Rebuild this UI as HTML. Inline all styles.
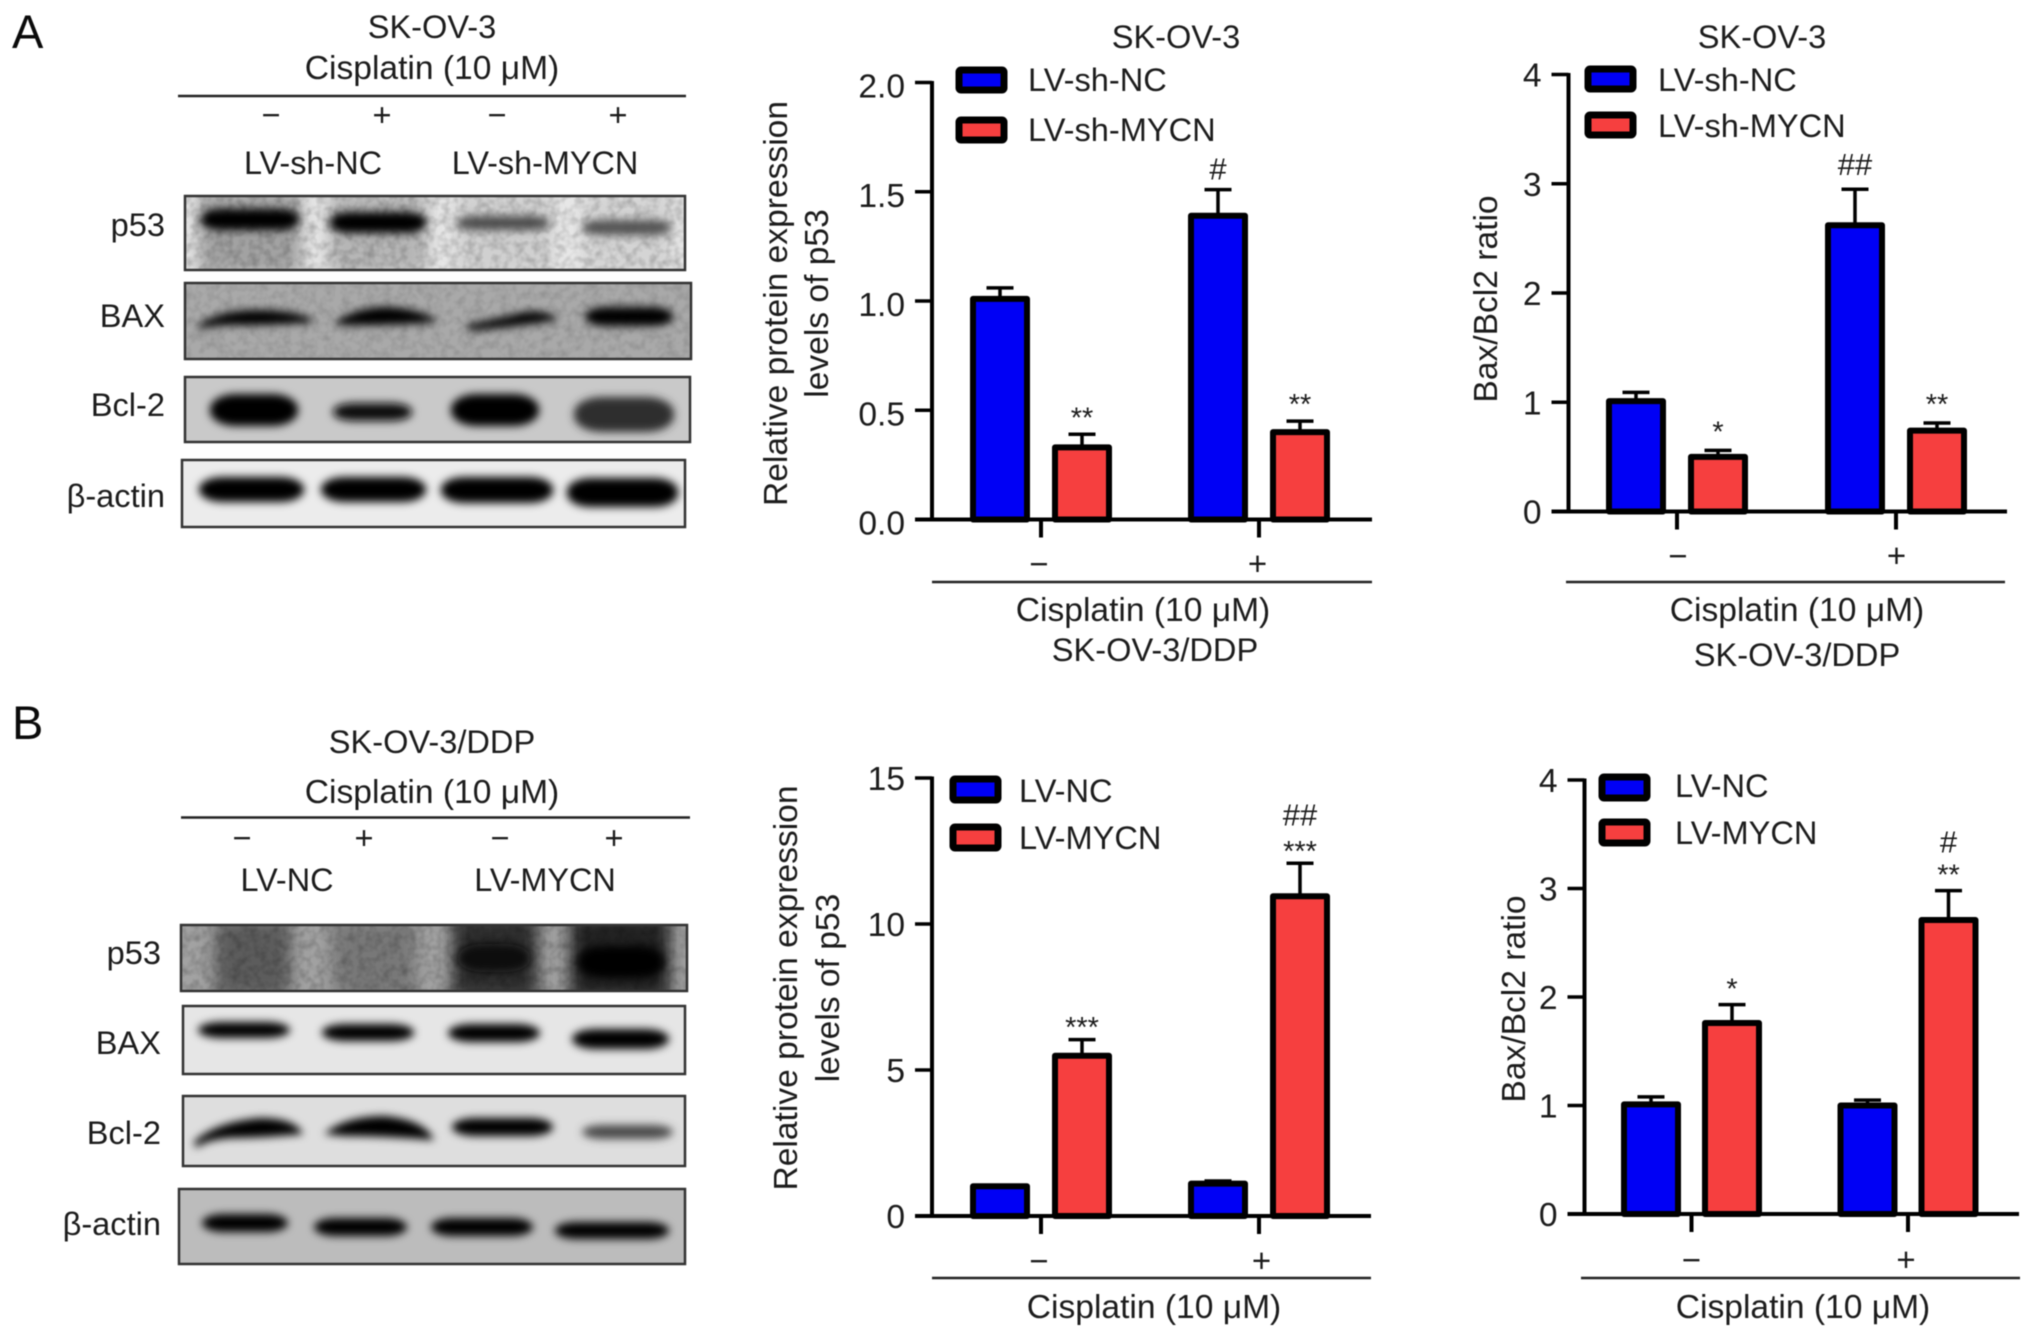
<!DOCTYPE html>
<html lang="en">
<head>
<meta charset="utf-8">
<title>p53 and Bax/Bcl2 expression after cisplatin treatment</title>
<style>
html,body{margin:0;padding:0;background:#fff}
svg{display:block;filter:blur(0.6px)}
text{font-family:"Liberation Sans",Arial,sans-serif;fill:#1c1c1c}
.t33{font-size:33.6px}
.t32{font-size:32.6px}
.t31{font-size:32.4px}
.mid{text-anchor:middle}
.end{text-anchor:end}
.panel{font-size:47px;fill:#0a0a0a}
.frame{fill:none;stroke:#333;stroke-width:2.5}
.rule{stroke:#222;stroke-width:2.5}
.swatch{stroke:#000;stroke-width:7}
.blue{fill:#0000f5}
.red{fill:#f63f3f}
</style>
</head>
<body>
<svg id="figure" xmlns="http://www.w3.org/2000/svg" width="2032" height="1338" viewBox="0 0 2032 1338">
<defs>
<filter id="b4" x="-30%" y="-80%" width="160%" height="260%"><feGaussianBlur stdDeviation="4.2"/></filter>
<filter id="b8" x="-30%" y="-30%" width="160%" height="160%"><feGaussianBlur stdDeviation="8"/></filter>
<filter id="grain" x="0" y="0" width="100%" height="100%"><feTurbulence type="fractalNoise" baseFrequency="0.12" numOctaves="2" seed="4"/><feColorMatrix type="matrix" values="0 0 0 0 0  0 0 0 0 0  0 0 0 0 0  1.6 0 0 0 -0.6"/></filter>
<clipPath id="c1"><rect x="185" y="196" width="500" height="74"/></clipPath>
<clipPath id="c2"><rect x="185" y="283" width="506" height="76"/></clipPath>
<clipPath id="c3"><rect x="185" y="377" width="505" height="65"/></clipPath>
<clipPath id="c4"><rect x="182" y="460" width="503" height="67"/></clipPath>
<clipPath id="c5"><rect x="181" y="925" width="506" height="66"/></clipPath>
<clipPath id="c6"><rect x="183" y="1006" width="502" height="68"/></clipPath>
<clipPath id="c7"><rect x="183" y="1096" width="502" height="70"/></clipPath>
<clipPath id="c8"><rect x="179" y="1189" width="506" height="75"/></clipPath>
</defs>

<!-- Panel A western blots -->
<g id="blot-a">
<text class="panel" x="12" y="48">A</text>
<text class="t32 mid" x="432" y="38">SK-OV-3</text>
<text class="t33 mid" x="432" y="79">Cisplatin (10 μM)</text>
<line class="rule" x1="178" y1="96" x2="686" y2="96"/>
<text class="t32 mid" x="271" y="126">−</text>
<text class="t32 mid" x="382" y="126">+</text>
<text class="t32 mid" x="497" y="126">−</text>
<text class="t32 mid" x="618" y="126">+</text>
<text class="t31 mid" x="313" y="174">LV-sh-NC</text>
<text class="t31 mid" x="545" y="174">LV-sh-MYCN</text>
<text class="t32 end" x="165" y="236">p53</text>
<text class="t32 end" x="165" y="327">BAX</text>
<text class="t32 end" x="165" y="416">Bcl-2</text>
<text class="t32 end" x="165" y="507">β-actin</text>

<g>
<g clip-path="url(#c1)">
<rect x="185" y="196" width="500" height="74" fill="#e8e8e8"/>
<g filter="url(#b8)">
<rect x="198" y="190" width="104" height="85" fill="#a2a2a2"/>
<rect x="328" y="190" width="100" height="85" fill="#b6b6b6"/>
<rect x="455" y="190" width="98" height="85" fill="#d0d0d0"/>
<rect x="582" y="190" width="92" height="85" fill="#d4d4d4"/>
</g>
<rect x="185" y="196" width="500" height="74" filter="url(#grain)" opacity="0.25"/>
<g filter="url(#b4)">
<rect x="201" y="209" width="98" height="21" rx="20" ry="9" fill="#000"/>
<rect x="330" y="212" width="96" height="21" rx="20" ry="9" fill="#000"/>
<rect x="456" y="216" width="94" height="14" rx="20" ry="7" fill="#4c4c4c"/>
<rect x="582" y="220" width="90" height="15" rx="20" ry="7" fill="#525252"/>
</g>
</g>
<rect class="frame" x="185" y="196" width="500" height="74"/>
</g>

<g>
<g clip-path="url(#c2)">
<rect x="185" y="283" width="506" height="76" fill="#a9a9a9"/>
<rect x="185" y="283" width="506" height="76" filter="url(#grain)" opacity="0.15"/>
<g filter="url(#b4)" fill="#000">
<path d="M198 326 Q215 311 255 310 Q300 310 316 322 Q260 326 235 325 Q210 325 198 330 Z"/>
<path d="M337 321 Q360 306 390 307 Q425 310 438 322 Q390 326 337 325 Z"/>
<path d="M466 325 Q500 318 525 312 Q550 310 558 320 Q520 326 470 331 Z"/>
<rect x="585" y="307" width="88" height="19" rx="22" ry="9"/>
</g>
</g>
<rect class="frame" x="185" y="283" width="506" height="76"/>
</g>

<g>
<g clip-path="url(#c3)">
<rect x="185" y="377" width="505" height="65" fill="#c9c9c9"/>
<g filter="url(#b4)">
<rect x="210" y="394" width="88" height="32" rx="26" ry="15" fill="#000"/>
<rect x="333" y="403" width="79" height="18" rx="22" ry="8" fill="#0a0a0a"/>
<rect x="451" y="394" width="88" height="32" rx="26" ry="15" fill="#000"/>
<rect x="574" y="397" width="100" height="35" rx="28" ry="16" fill="#2d2d2d"/>
</g>
</g>
<rect class="frame" x="185" y="377" width="505" height="65"/>
</g>

<g>
<g clip-path="url(#c4)">
<rect x="182" y="460" width="503" height="67" fill="#ececec"/>
<g filter="url(#b4)" fill="#000">
<rect x="199" y="477" width="105" height="25" rx="24" ry="12"/>
<rect x="321" y="477" width="105" height="25" rx="24" ry="12"/>
<rect x="441" y="477" width="112" height="26" rx="24" ry="12"/>
<rect x="567" y="478" width="111" height="29" rx="24" ry="13"/>
</g>
</g>
<rect class="frame" x="182" y="460" width="503" height="67"/>
</g>
</g>

<!-- Panel B western blots -->
<g id="blot-b">
<text class="panel" x="12" y="739">B</text>
<text class="t32 mid" x="432" y="753">SK-OV-3/DDP</text>
<text class="t33 mid" x="432" y="803">Cisplatin (10 μM)</text>
<line class="rule" x1="181" y1="817.5" x2="690" y2="817.5"/>
<text class="t32 mid" x="242" y="849">−</text>
<text class="t32 mid" x="364" y="849">+</text>
<text class="t32 mid" x="500" y="849">−</text>
<text class="t32 mid" x="614" y="849">+</text>
<text class="t31 mid" x="287" y="891">LV-NC</text>
<text class="t31 mid" x="545" y="891">LV-MYCN</text>
<text class="t32 end" x="161" y="964">p53</text>
<text class="t32 end" x="161" y="1054">BAX</text>
<text class="t32 end" x="161" y="1144">Bcl-2</text>
<text class="t32 end" x="161" y="1235">β-actin</text>

<g>
<g clip-path="url(#c5)">
<rect x="181" y="925" width="506" height="66" fill="#a2a2a2"/>
<g filter="url(#b8)">
<rect x="215" y="920" width="76" height="76" fill="#5c5c5c"/>
<rect x="332" y="920" width="84" height="76" fill="#787878"/>
<rect x="452" y="915" width="86" height="85" fill="#2e2e2e"/>
<rect x="570" y="915" width="100" height="85" fill="#222"/>
</g>
<rect x="181" y="925" width="506" height="66" filter="url(#grain)" opacity="0.25"/>
<g filter="url(#b4)">
<rect x="458" y="944" width="72" height="28" rx="24" ry="13" fill="#0c0c0c"/>
<rect x="578" y="946" width="86" height="32" rx="24" ry="14" fill="#030303"/>
</g>
</g>
<rect class="frame" x="181" y="925" width="506" height="66"/>
</g>

<g>
<g clip-path="url(#c6)">
<rect x="183" y="1006" width="502" height="68" fill="#e6e6e6"/>
<g filter="url(#b4)" fill="#000">
<rect x="198" y="1022" width="92" height="16" rx="24" ry="8"/>
<rect x="322" y="1024" width="92" height="17" rx="24" ry="8"/>
<rect x="448" y="1024" width="92" height="18" rx="24" ry="9"/>
<rect x="572" y="1029" width="97" height="20" rx="24" ry="10"/>
</g>
</g>
<rect class="frame" x="183" y="1006" width="502" height="68"/>
</g>

<g>
<g clip-path="url(#c7)">
<rect x="183" y="1096" width="502" height="70" fill="#dedede"/>
<g filter="url(#b4)">
<path d="M194 1142 Q215 1122 260 1118 Q295 1118 303 1134 Q260 1138 230 1138 Q205 1140 196 1148 Z" fill="#000"/>
<path d="M324 1134 Q345 1116 385 1116 Q425 1120 434 1140 Q385 1136 345 1136 Z" fill="#000"/>
<rect x="452" y="1118" width="101" height="18" rx="24" ry="9" fill="#050505"/>
<rect x="582" y="1125" width="91" height="14" rx="22" ry="7" fill="#4a4a4a"/>
</g>
</g>
<rect class="frame" x="183" y="1096" width="502" height="70"/>
</g>

<g>
<g clip-path="url(#c8)">
<rect x="179" y="1189" width="506" height="75" fill="#bcbcbc"/>
<g filter="url(#b4)" fill="#000">
<rect x="202" y="1214" width="86" height="18" rx="22" ry="9"/>
<rect x="314" y="1218" width="93" height="18" rx="22" ry="9"/>
<rect x="431" y="1218" width="102" height="18" rx="22" ry="9"/>
<rect x="555" y="1222" width="114" height="17" rx="22" ry="8"/>
</g>
</g>
<rect class="frame" x="179" y="1189" width="506" height="75"/>
</g>
</g>

<!-- Chart A1 -->
<g id="chart-a1">
<text class="t32 mid" x="1176" y="48">SK-OV-3</text>
<g transform="translate(787,303.5) rotate(-90)">
<text class="t33 mid" x="0" y="0">Relative protein expression</text>
<text class="t33 mid" x="0" y="41">levels of p53</text>
</g>
<rect class="swatch blue" x="959" y="70" width="45" height="20" rx="2"/>
<text class="t32" x="1028" y="91">LV-sh-NC</text>
<rect class="swatch red" x="959" y="120" width="45" height="20" rx="2"/>
<text class="t32" x="1028" y="141">LV-sh-MYCN</text>
<line class="rule" x1="932" y1="582" x2="1372" y2="582"/>
<text class="t33 mid" x="1143" y="621">Cisplatin (10 μM)</text>
<text class="t32 mid" x="1155" y="661">SK-OV-3/DDP</text>
</g>

<!-- Chart A2 -->
<g id="chart-a2">
<text class="t32 mid" x="1762" y="48">SK-OV-3</text>
<g transform="translate(1497,299) rotate(-90)">
<text class="t33 mid" x="0" y="0">Bax/Bcl2 ratio</text>
</g>
<rect class="swatch blue" x="1588" y="69" width="45" height="20" rx="2"/>
<text class="t32" x="1658" y="91">LV-sh-NC</text>
<rect class="swatch red" x="1588" y="115" width="45" height="20" rx="2"/>
<text class="t32" x="1658" y="137">LV-sh-MYCN</text>
<line class="rule" x1="1566" y1="582" x2="2005" y2="582"/>
<text class="t33 mid" x="1797" y="621">Cisplatin (10 μM)</text>
<text class="t32 mid" x="1797" y="666">SK-OV-3/DDP</text>
</g>

<!-- Chart B1 -->
<g id="chart-b1">
<g transform="translate(797,988) rotate(-90)">
<text class="t33 mid" x="0" y="0">Relative protein expression</text>
<text class="t33 mid" x="0" y="42">levels of p53</text>
</g>
<rect class="swatch blue" x="953" y="779" width="45" height="21" rx="2"/>
<text class="t32" x="1019" y="802">LV-NC</text>
<rect class="swatch red" x="953" y="827" width="45" height="21" rx="2"/>
<text class="t32" x="1019" y="849">LV-MYCN</text>
<line class="rule" x1="932" y1="1278" x2="1371" y2="1278"/>
<text class="t33 mid" x="1154" y="1318">Cisplatin (10 μM)</text>
</g>

<!-- Chart B2 -->
<g id="chart-b2">
<g transform="translate(1525,999) rotate(-90)">
<text class="t33 mid" x="0" y="0">Bax/Bcl2 ratio</text>
</g>
<rect class="swatch blue" x="1602" y="777" width="45" height="21" rx="2"/>
<text class="t32" x="1675" y="797">LV-NC</text>
<rect class="swatch red" x="1602" y="822" width="45" height="21" rx="2"/>
<text class="t32" x="1675" y="844">LV-MYCN</text>
<line class="rule" x1="1581" y1="1278" x2="2020" y2="1278"/>
<text class="t33 mid" x="1803" y="1318">Cisplatin (10 μM)</text>
</g>
</svg>

<script>
// Shared categories
const categories = ['−', '+'];

// Chart A1: p53 in SK-OV-3
const a1TickLabels = ['0.0', '0.5', '1.0', '1.5', '2.0'];
const a1Control = [1.01, 1.39];
const a1Treatment = [0.33, 0.40];
const a1ControlErr = [0.05, 0.12];
const a1TreatmentErr = [0.06, 0.05];
const a1ControlStars = ['', ''];
const a1TreatmentStars = ['**', '**'];
const a1ControlHash = ['', '#'];
const a1TreatmentHash = ['', ''];

// Chart A2: Bax/Bcl2 in SK-OV-3
const a2TickLabels = ['0', '1', '2', '3', '4'];
const a2Control = [1.01, 2.62];
const a2Treatment = [0.50, 0.74];
const a2ControlErr = [0.08, 0.33];
const a2TreatmentErr = [0.06, 0.07];
const a2ControlStars = ['', ''];
const a2TreatmentStars = ['*', '**'];
const a2ControlHash = ['', '##'];
const a2TreatmentHash = ['', ''];

// Chart B1: p53 in SK-OV-3/DDP
const b1TickLabels = ['0', '5', '10', '15'];
const b1Control = [1.02, 1.11];
const b1Treatment = [5.49, 10.95];
const b1ControlErr = [0.03, 0.09];
const b1TreatmentErr = [0.55, 1.13];
const b1ControlStars = ['', ''];
const b1TreatmentStars = ['***', '***'];
const b1ControlHash = ['', ''];
const b1TreatmentHash = ['', '##'];

// Chart B2: Bax/Bcl2 in SK-OV-3/DDP
const b2TickLabels = ['0', '1', '2', '3', '4'];
const b2Control = [1.01, 1.00];
const b2Treatment = [1.76, 2.71];
const b2ControlErr = [0.07, 0.05];
const b2TreatmentErr = [0.17, 0.27];
const b2ControlStars = ['', ''];
const b2TreatmentStars = ['*', '**'];
const b2ControlHash = ['', ''];
const b2TreatmentHash = ['', '#'];

const NS = 'http://www.w3.org/2000/svg';

function make(parent, tag, attrs, content) {
  const node = document.createElementNS(NS, tag);
  for (const key in attrs) node.setAttribute(key, attrs[key]);
  if (content !== undefined) node.textContent = content;
  parent.appendChild(node);
  return node;
}

function drawChart(rootId, frame, tickLabels, series) {
  const root = document.getElementById(rootId);
  const yMax = Number(tickLabels[tickLabels.length - 1]);
  const yScale = v => frame.yZero - (v / yMax) * (frame.yZero - frame.yTop);
  const groupX = g => frame.group0 + g * frame.groupStep;
  const barX = (g, s) => groupX(g) + (s - 0.5) * frame.barStep;

  // y axis
  const yAxis = make(root, 'line', {x1: frame.axisX, y1: yScale(yMax) - 1.5, x2: frame.axisX, y2: frame.yZero + 1.5, stroke: '#000', 'stroke-width': 4});
  
  

  tickLabels.forEach(label => {
    const value = Number(label);
    const tick = make(root, 'line', {x1: frame.axisX - 17, y1: yScale(value), x2: frame.axisX, y2: yScale(value), stroke: '#000', 'stroke-width': 3.5});
    
    
    const tickText = make(root, 'text', {x: frame.axisX - 27, y: yScale(value) + frame.labelDy, 'text-anchor': 'end', 'font-size': 33.6}, label);
    
    
  });

  // bars, error bars and significance marks
  series.forEach((s, si) => {
    s.values.forEach((value, g) => {
      const cx = barX(g, si);
      const errTop = yScale(value + s.errors[g]);
      const errLine = make(root, 'line', {x1: cx, y1: yScale(value), x2: cx, y2: errTop, stroke: '#000', 'stroke-width': 3.5});
      
      
      const errCap = make(root, 'line', {x1: cx - 13.5, y1: errTop, x2: cx + 13.5, y2: errTop, stroke: '#000', 'stroke-width': 3.5});
      
      
      const bar = make(root, 'rect', {x: cx - 27, y: yScale(value), width: 54, height: frame.yZero - yScale(value), fill: s.color, stroke: '#000', 'stroke-width': 6, 'stroke-linejoin': 'round'});
      
      
      if (s.stars[g]) {
        const star = make(root, 'text', {x: cx, y: errTop - frame.starGap, 'text-anchor': 'middle', 'font-size': 29}, s.stars[g]);
        
        
      }
      if (s.hash[g]) {
        const hash = make(root, 'text', {x: cx, y: errTop - frame.hashGap, 'text-anchor': 'middle', 'font-size': 31}, s.hash[g]);
        
        
      }
    });
  });

  // x axis drawn over the bar bases
  const xAxis = make(root, 'line', {x1: frame.axisX - 17, y1: frame.yZero, x2: frame.xEnd, y2: frame.yZero, stroke: '#000', 'stroke-width': 4});
  
  

  categories.forEach((category, g) => {
    const tick = make(root, 'line', {x1: groupX(g), y1: frame.yZero, x2: groupX(g), y2: frame.yZero + 18, stroke: '#000', 'stroke-width': 4});
    
    
    const label = make(root, 'text', {x: groupX(g) + frame.signDx[g], y: frame.signY, 'text-anchor': 'middle', 'font-size': 33}, category);
    
    
  });
}

const BLUE = '#0000f5';
const RED = '#f63f3f';

drawChart('chart-a1',
  {axisX: 932, yZero: 519.5, yTop: 82.5, xEnd: 1372, group0: 1041, groupStep: 218, barStep: 82, labelDy: 15, signY: 575, signDx: [-2, -1.5], starGap: 7, hashGap: 10},
  a1TickLabels,
  [{values: a1Control, errors: a1ControlErr, color: BLUE, stars: a1ControlStars, hash: a1ControlHash},
   {values: a1Treatment, errors: a1TreatmentErr, color: RED, stars: a1TreatmentStars, hash: a1TreatmentHash}]);

drawChart('chart-a2',
  {axisX: 1568.5, yZero: 511.5, yTop: 74.5, xEnd: 2007, group0: 1677, groupStep: 219, barStep: 82, labelDy: 12, signY: 567, signDx: [1, 0.5], starGap: 9, hashGap: 14},
  a2TickLabels,
  [{values: a2Control, errors: a2ControlErr, color: BLUE, stars: a2ControlStars, hash: a2ControlHash},
   {values: a2Treatment, errors: a2TreatmentErr, color: RED, stars: a2TreatmentStars, hash: a2TreatmentHash}]);

drawChart('chart-b1',
  {axisX: 932, yZero: 1216, yTop: 778, xEnd: 1371, group0: 1041, groupStep: 218, barStep: 82, labelDy: 12, signY: 1272, signDx: [-2, 2.5], starGap: 2.5, hashGap: 38},
  b1TickLabels,
  [{values: b1Control, errors: b1ControlErr, color: BLUE, stars: b1ControlStars, hash: b1ControlHash},
   {values: b1Treatment, errors: b1TreatmentErr, color: RED, stars: b1TreatmentStars, hash: b1TreatmentHash}]);

drawChart('chart-b2',
  {axisX: 1584.5, yZero: 1214, yTop: 780, xEnd: 2019, group0: 1691.5, groupStep: 216.5, barStep: 81, labelDy: 12, signY: 1271, signDx: [0, -2], starGap: 6, hashGap: 38},
  b2TickLabels,
  [{values: b2Control, errors: b2ControlErr, color: BLUE, stars: b2ControlStars, hash: b2ControlHash},
   {values: b2Treatment, errors: b2TreatmentErr, color: RED, stars: b2TreatmentStars, hash: b2TreatmentHash}]);
</script>
</body>
</html>
